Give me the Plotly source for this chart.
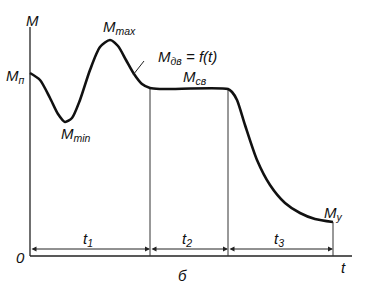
import plotly.graph_objects as go

# curve M = f(t) (chart units: t to the right, M upwards)
t_curve = [0, 10, 20, 28, 35, 42, 50, 60, 70, 80, 88, 96, 104, 112, 120, 130, 198, 202, 207, 215, 227, 240, 255, 270, 285, 303]
m_curve = [183, 176, 158, 142, 134, 138, 156, 186, 209, 216, 210, 196, 182, 172, 168, 167, 167, 164, 156, 131, 96, 71, 53, 43, 37, 34]

# stage boundaries
t_bounds = [0, 120, 198, 303]
m_bounds = [183, 168, 167, 34]
stage_labels = ["t<sub>1</sub>", "t<sub>2</sub>", "t<sub>3</sub>"]

FONT = "Liberation Sans"
fig = go.Figure()

# axes
fig.add_trace(go.Scatter(x=[0, 0], y=[0, 229], mode="lines", line=dict(color="#222", width=1.3), hoverinfo="skip"))
fig.add_trace(go.Scatter(x=[0, 322], y=[0, 0], mode="lines", line=dict(color="#222", width=1.3), hoverinfo="skip"))

# boundary verticals
for tb, mb in zip(t_bounds[1:], m_bounds[1:]):
    fig.add_trace(go.Scatter(x=[tb, tb], y=[0, mb], mode="lines", line=dict(color="#333", width=1), hoverinfo="skip"))

# main curve
fig.add_trace(go.Scatter(x=t_curve, y=m_curve, mode="lines",
                         line=dict(color="#111", width=2.6, shape="spline", smoothing=0.7), hoverinfo="skip"))

# leader line
fig.add_trace(go.Scatter(x=[103, 114], y=[181, 195], mode="lines", line=dict(color="#222", width=1), hoverinfo="skip"))

ann = []
# dimension arrows
for i in range(3):
    a, b = t_bounds[i], t_bounds[i + 1]
    ann.append(dict(x=b, y=7, ax=a, ay=7, xref="x", yref="y", axref="x", ayref="y",
                    showarrow=True, arrowhead=2, arrowsize=1, arrowwidth=1, arrowside="end+start",
                    arrowcolor="#222", text=""))
    ann.append(dict(x=(a + b) / 2 - 2, y=17, xref="x", yref="y", showarrow=False,
                    text="<i>" + stage_labels[i] + "</i>", font=dict(family=FONT, size=15, color="#111")))

def lab(x, y, s, size=15):
    ann.append(dict(x=x, y=y, xref="x", yref="y", showarrow=False, text="<i>" + s + "</i>",
                    font=dict(family=FONT, size=size, color="#111")))

lab(2, 236, "M")
lab(-10, -1, "0")
lab(313, -11, "t")
lab(152, -19, "б")
lab(-15, 180, "M<sub>п</sub>")
lab(46, 122, "M<sub>min</sub>")
lab(89, 229, "M<sub>max</sub>")
lab(157, 199, "M<sub>дв</sub> = f(t)")
lab(165, 179, "M<sub>св</sub>")
lab(303, 43, "M<sub>у</sub>")

fig.update_layout(
    width=369, height=284, margin=dict(l=0, r=0, t=0, b=0),
    paper_bgcolor="white", plot_bgcolor="white", showlegend=False,
    xaxis=dict(range=[-30, 339], visible=False, fixedrange=True),
    yaxis=dict(range=[-28, 256], visible=False, fixedrange=True),
    annotations=ann,
)
fig.write_html("out.html")
